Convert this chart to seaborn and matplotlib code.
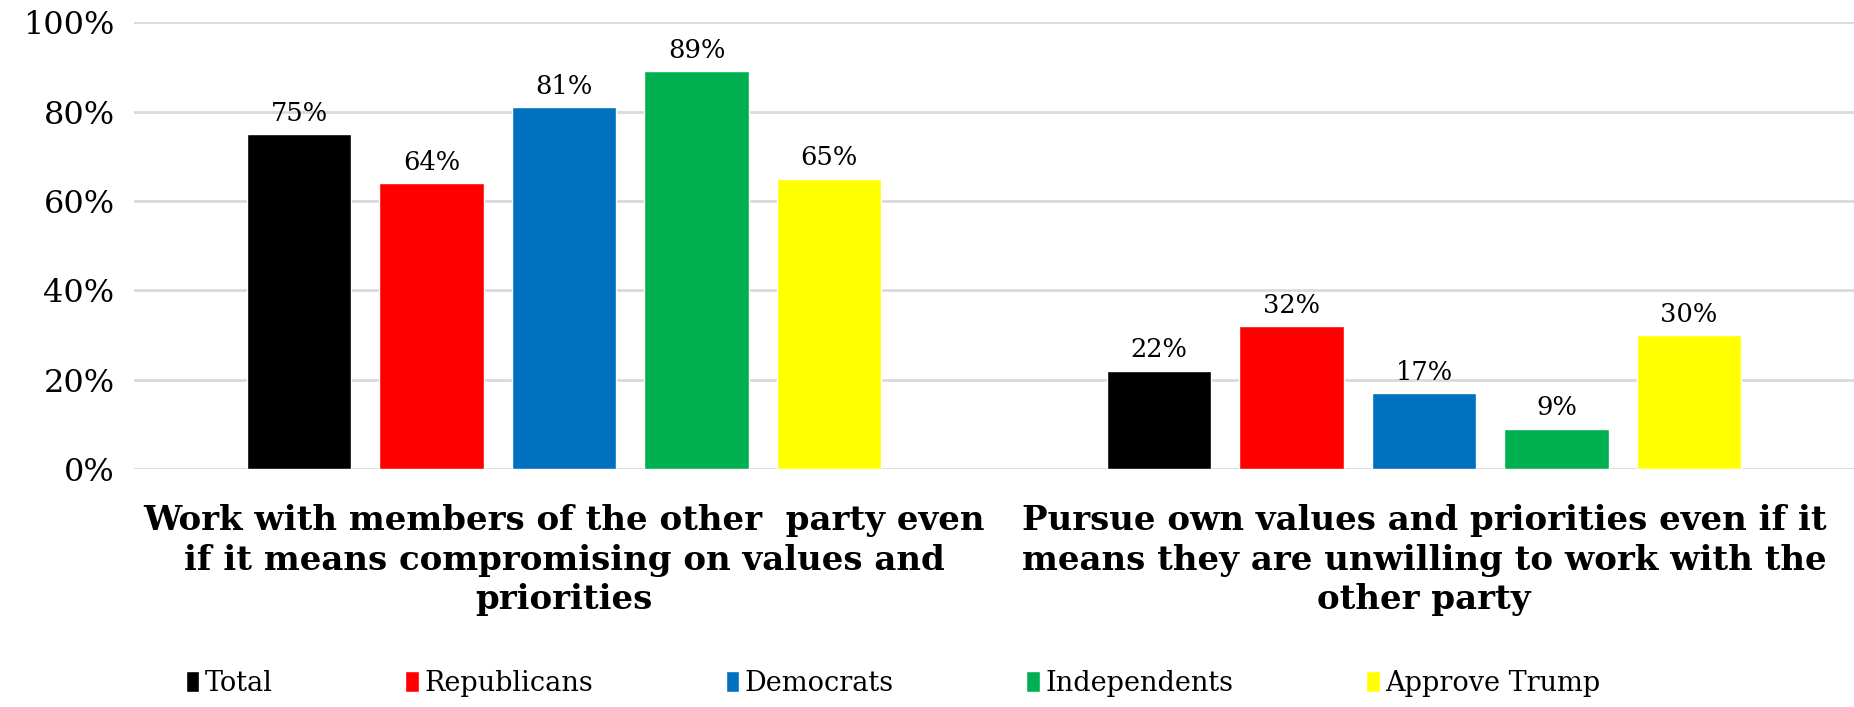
import pandas as pd
import matplotlib.pyplot as plt
import seaborn as sns
from matplotlib.patches import Patch
from matplotlib.ticker import FuncFormatter

# categories and groups
categories = ['Work with members of the other  party even\nif it means compromising on values and\npriorities',
              'Pursue own values and priorities even if it\nmeans they are unwilling to work with the\nother party']
groups = ['Total', 'Republicans', 'Democrats', 'Independents', 'Approve Trump']
colors = ['#000000', '#FF0000', '#0070C0', '#00B050', '#FFFF00']

# values in percent, one list per category
work_with = [75, 64, 81, 89, 65]
pursue_own = [22, 32, 17, 9, 30]

rows = []
for g, a, b in zip(groups, work_with, pursue_own):
    rows.append({'category': categories[0], 'group': g, 'value': a})
    rows.append({'category': categories[1], 'group': g, 'value': b})
df = pd.DataFrame(rows)

sns.set_style('white')
plt.rcParams['font.family'] = ['DejaVu Serif']
plt.rcParams['text.color'] = 'black'
plt.rcParams['xtick.color'] = 'black'
plt.rcParams['ytick.color'] = 'black'

fig = plt.figure(figsize=(18.54, 7.07), dpi=100)
ax = fig.add_axes([0.0723, 0.3366, 0.9277, 0.632])

sns.barplot(data=df, x='category', y='value', hue='group', order=categories,
            hue_order=groups, palette=colors, width=0.77, gap=0.21,
            saturation=1, legend=False, ax=ax)

for cont in ax.containers:
    ax.bar_label(cont, fmt='%d%%', padding=6, fontsize=18.5, color='black')

ax.set_ylim(0, 100)
ax.set_yticks(range(0, 101, 20))
ax.yaxis.set_major_formatter(FuncFormatter(lambda v, p: f'{int(v)}%'))
ax.yaxis.grid(True, color='#d9d9d9', linewidth=2)
ax.set_axisbelow(True)
for s in ax.spines.values():
    s.set_visible(False)
ax.tick_params(axis='y', labelsize=23, length=0, pad=14)
ax.tick_params(axis='x', length=0, pad=25)
for lbl in ax.get_xticklabels():
    lbl.set_fontsize(24.5)
    lbl.set_fontweight('bold')
    lbl.set_linespacing(1.26)
ax.set_xlabel('')
ax.set_ylabel('')

handles = [Patch(facecolor=c, label=g) for g, c in zip(groups, colors)]
fig.legend(handles=handles, loc='lower left', bbox_to_anchor=(0.087, -0.02),
           ncol=5, frameon=False, fontsize=19.5, handlelength=0.5,
           handleheight=0.85, handletextpad=0.2, columnspacing=4.9)

fig.savefig('out.png', dpi=100)
